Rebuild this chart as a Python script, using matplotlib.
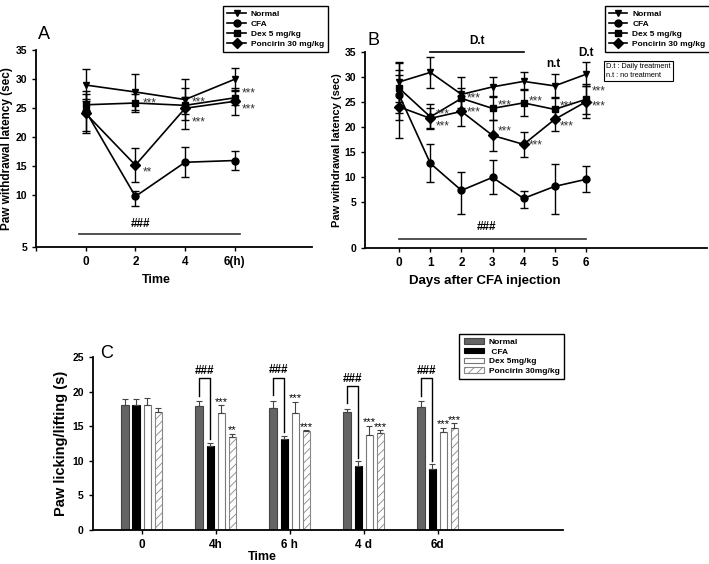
import numpy as np
import matplotlib
matplotlib.use('Agg')
import matplotlib.pyplot as plt
from matplotlib.lines import Line2D
from matplotlib.patches import Patch

plt.rcParams['font.family'] = 'Liberation Sans'
plt.rcParams['font.weight'] = 'bold'
plt.rcParams['axes.labelweight'] = 'bold'
plt.rcParams['hatch.linewidth'] = 0.6

# Panel A: hours after CFA
time_a = [0, 2, 4, 6]
a_normal = [29.0, 27.8, 26.5, 30.0]
a_normal_err = [2.8, 3.1, 3.5, 1.9]
a_cfa = [24.5, 9.9, 15.7, 16.0]
a_cfa_err = [3.5, 0.9, 2.6, 1.6]
a_dex = [25.6, 25.9, 25.5, 26.8]
a_dex_err = [1.0, 1.6, 1.5, 1.2]
a_ponc = [24.1, 15.2, 25.0, 26.2]
a_ponc_err = [3.3, 2.9, 3.5, 2.3]

# Panel B: days after CFA
days_b = [0, 1, 2, 3, 4, 5, 6]
b_normal = [29.0, 30.9, 26.5, 28.0, 29.1, 28.2, 30.5]
b_normal_err = [4.0, 3.1, 3.5, 1.9, 1.8, 2.3, 2.4]
b_cfa = [26.3, 12.7, 7.3, 9.9, 5.7, 8.1, 9.5]
b_cfa_err = [5.0, 3.8, 3.6, 3.4, 1.4, 4.4, 2.6]
b_dex = [27.7, 22.0, 25.7, 23.7, 24.8, 23.5, 25.5]
b_dex_err = [5.0, 2.5, 2.0, 2.3, 2.7, 2.3, 3.0]
b_ponc = [24.0, 21.7, 23.1, 18.3, 16.5, 21.5, 25.0]
b_ponc_err = [6.3, 2.0, 3.0, 3.1, 2.5, 2.3, 3.2]

# Panel C: licking / lifting
c_groups = ['0', '4h', '6 h', '4 d', '6d']
c_normal = [18.0, 17.9, 17.7, 17.0, 17.8]
c_normal_err = [0.9, 0.7, 1.0, 0.5, 0.8]
c_cfa = [18.0, 12.1, 13.1, 9.2, 8.8]
c_cfa_err = [0.9, 0.5, 0.5, 0.7, 0.7]
c_dex = [18.0, 16.9, 16.9, 13.7, 14.2]
c_dex_err = [1.1, 1.1, 1.6, 1.4, 0.6]
c_ponc = [17.0, 13.4, 14.3, 14.0, 14.7]
c_ponc_err = [0.6, 0.5, 0.1, 0.4, 0.7]
c_hash = ['', '###', '###', '###', '###']
c_dex_stars = ['', '***', '***', '***', '***']
c_ponc_stars = ['', '**', '***', '***', '***']

labels = ['Normal', 'CFA', 'Dex 5 mg/kg', 'Poncirin 30 mg/kg']
markers = ['v', 'o', 's', 'D']


def broken_scale(b, k):
    # axis is stretched below b (as in the original figure)
    def fwd(y):
        y = np.asarray(y, dtype=float)
        return np.where(y < b, b - (b - y) * k, y)

    def inv(v):
        v = np.asarray(v, dtype=float)
        return np.where(v < b, b - (b - v) / k, v)
    return fwd, inv


def style_axes(ax):
    ax.spines['top'].set_visible(False)
    ax.spines['right'].set_visible(False)
    ax.spines['left'].set_linewidth(1.3)
    ax.spines['bottom'].set_linewidth(1.3)
    ax.tick_params(length=3, width=1, labelsize=7.5)


def draw_lines(ax, x, series, errs):
    for y, e, m in zip(series, errs, markers):
        ax.errorbar(x, y, yerr=e, color='black', marker=m, ms=5, lw=1.2,
                    elinewidth=1, capsize=3, capthick=1)


def star(ax, x, y, txt, dx, dy):
    ax.annotate(txt, xy=(x, y), xytext=(dx, dy), textcoords='offset points',
                ha='left', va='center', fontsize=8.5, color='#333333',
                fontweight='normal')


fig = plt.figure(figsize=(7.09, 5.64), dpi=100)

# ---------- A ----------
axA = fig.add_axes([0.0508, 0.562, 0.389, 0.349])
axA.set_yscale('function', functions=broken_scale(10, 1.78))
draw_lines(axA, time_a, [a_normal, a_cfa, a_dex, a_ponc],
           [a_normal_err, a_cfa_err, a_dex_err, a_ponc_err])
axA.set_xlim(-2, 9.1)
axA.set_ylim(5, 35)
axA.set_yticks([5, 10, 15, 20, 25, 30, 35])
axA.set_yticklabels(['5', '10', '15', '20', '25', '30', '35'])
axA.set_xticks([-2, 0, 2, 4, 6])
axA.set_xticklabels(['', '0', '2', '4', '6(h)'])
style_axes(axA)
axA.tick_params(axis='x', labelsize=8.5)
axA.set_xlabel('Time', fontsize=9, x=0.435)
axA.set_ylabel('Paw withdrawal latency (sec)', fontsize=8.5, labelpad=2)
axA.plot([-0.25, 6.2], [6.3, 6.3], color='#333333', lw=1.2)
axA.text(2.2, 6.6, '###', ha='center', va='bottom', fontsize=8.5)
star(axA, 2, a_dex[1], '***', 5, 0)
star(axA, 2, a_ponc[1], '**', 5, -5)
star(axA, 4, a_dex[2], '***', 5, 2)
star(axA, 4, a_ponc[2], '***', 5, -10)
star(axA, 6, a_dex[3], '***', 5, 3)
star(axA, 6, a_ponc[3], '***', 5, -6)
fig.text(0.053, 0.93, 'A', fontsize=13, fontweight='normal')

# ---------- B ----------
axB = fig.add_axes([0.515, 0.560, 0.482, 0.348])
axB.set_yscale('function', functions=broken_scale(5, 1.85))
draw_lines(axB, days_b, [b_normal, b_cfa, b_dex, b_ponc],
           [b_normal_err, b_cfa_err, b_dex_err, b_ponc_err])
axB.set_xlim(-1.1, 9.9)
axB.set_ylim(0, 35)
axB.set_yticks([0, 5, 10, 15, 20, 25, 30, 35])
axB.set_yticklabels(['0', '5', '10', '15', '20', '25', '30', '35'])
axB.set_xticks(days_b)
style_axes(axB)
axB.tick_params(axis='x', labelsize=8.5)
axB.set_xlabel('Days after CFA injection', fontsize=9.5, x=0.35)
axB.set_ylabel('Paw withdrawal latency (sec)', fontsize=8, labelpad=2)
axB.plot([0, 6], [1.0, 1.0], color='#333333', lw=1.2)
axB.text(2.8, 1.6, '###', ha='center', va='bottom', fontsize=8.5)
axB.plot([1, 4], [35, 35], color='black', lw=1.2, clip_on=False)
axB.text(2.5, 36.0, 'D.t', ha='center', va='bottom', fontsize=8.5)
axB.text(4.95, 32.6, 'n.t', ha='center', va='center', fontsize=8.5)
axB.text(6.0, 34.7, 'D.t', ha='center', va='center', fontsize=8.5)
dex_dy = [2, 0, 2, 1, 2, 6]
ponc_dy = [-6, -1, 3, -1, -5, -3]
for i, d in enumerate(days_b[1:]):
    star(axB, d, b_dex[i + 1], '***', 4, dex_dy[i])
    star(axB, d, b_ponc[i + 1], '***', 4, ponc_dy[i])
fig.text(0.519, 0.92, 'B', fontsize=13, fontweight='normal')

handles = [Line2D([], [], color='black', marker=m, ms=5, lw=1.2) for m in markers]
for x0 in [0.309, 0.847]:
    fig.legend(handles, labels, loc='upper left', bbox_to_anchor=(x0, 0.997),
               fontsize=6, frameon=True, fancybox=False, edgecolor='black',
               framealpha=1, handlelength=2.2, labelspacing=0.25,
               borderpad=0.5, handletextpad=0.6)
fig.text(0.855, 0.888, 'D.t : Daily treatment\nn.t : no treatment',
         fontsize=5.3, va='top', ha='left', fontweight='normal', linespacing=1.3,
         bbox=dict(boxstyle='square,pad=0.35', fc='white', ec='black', lw=0.8))

# ---------- C ----------
axC = fig.add_axes([0.131, 0.0603, 0.663, 0.3067])
x = np.arange(len(c_groups))
w = 0.1
offs = [-0.225, -0.075, 0.075, 0.225]
c_vals = [c_normal, c_cfa, c_dex, c_ponc]
c_errs = [c_normal_err, c_cfa_err, c_dex_err, c_ponc_err]
faces = ['#646464', 'black', 'white', 'white']
edges = ['#444444', 'black', '#777777', '#888888']
hatches = [None, None, None, '////']
for vals, errs, o, fc, ec, h in zip(c_vals, c_errs, offs, faces, edges, hatches):
    axC.bar(x + o, vals, w, color=fc, edgecolor=ec, hatch=h, linewidth=0.8,
            yerr=[np.zeros(len(errs)), errs], capsize=2.5,
            error_kw=dict(ecolor='#444444', elinewidth=0.8, capthick=0.8))

for i in range(len(c_groups)):
    if c_hash[i]:
        top = c_normal[i] + c_normal_err[i] + 3.3
        xl, xr = x[i] + offs[0], x[i] + offs[1]
        axC.plot([xl, xl, xr, xr],
                 [c_normal[i] + c_normal_err[i] + 0.8, top, top,
                  c_cfa[i] + c_cfa_err[i] + 0.5], color='black', lw=1)
        axC.text((xl + xr) / 2, top + 0.2, c_hash[i], ha='center', va='bottom',
                 fontsize=8.5)
    if c_dex_stars[i]:
        axC.text(x[i] + offs[2], c_dex[i] + c_dex_err[i] - 0.2, c_dex_stars[i],
                 ha='center', va='bottom', fontsize=8, fontweight='normal')
    if c_ponc_stars[i]:
        axC.text(x[i] + offs[3], c_ponc[i] + c_ponc_err[i] - 0.2, c_ponc_stars[i],
                 ha='center', va='bottom', fontsize=8, fontweight='normal')

axC.set_xlim(-0.66, 5.69)
axC.set_ylim(0, 25)
axC.set_yticks([0, 5, 10, 15, 20, 25])
axC.set_xticks(x)
axC.set_xticklabels(c_groups)
style_axes(axC)
axC.tick_params(axis='x', labelsize=8.5)
axC.set_xlabel('Time', fontsize=9, labelpad=0, x=0.36)
axC.set_ylabel('Paw licking/lifting (s)', fontsize=10.5, labelpad=3)
fig.text(0.141, 0.365, 'C', fontsize=13, fontweight='normal')

c_handles = [Patch(facecolor=fc, edgecolor=ec, hatch=h, linewidth=0.8)
             for fc, ec, h in zip(faces, edges, hatches)]
fig.legend(c_handles, ['Normal', ' CFA', 'Dex 5mg/kg', 'Poncirin 30mg/kg'],
           loc='upper left', bbox_to_anchor=(0.642, 0.415), fontsize=6,
           frameon=True, fancybox=False, edgecolor='black', framealpha=1,
           handlelength=2.5, handleheight=0.6, labelspacing=0.25,
           borderpad=0.5, handletextpad=0.5)

fig.savefig('out.png', dpi=100)
